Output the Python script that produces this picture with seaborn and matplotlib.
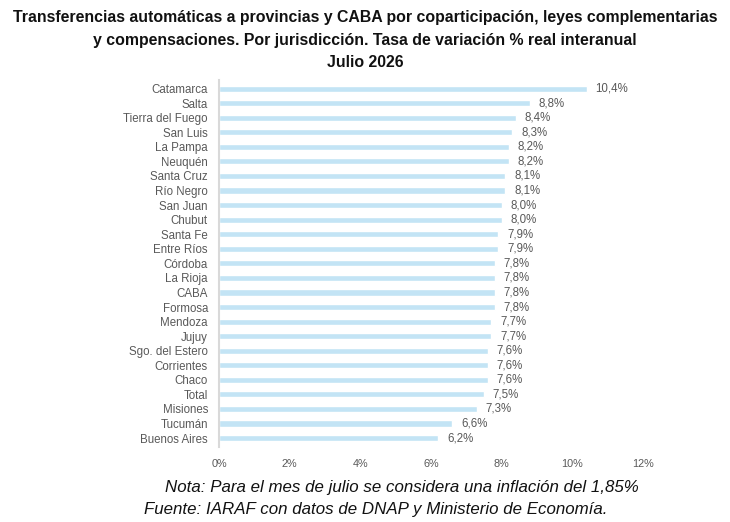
import matplotlib
matplotlib.use("Agg")
import matplotlib.pyplot as plt
import seaborn as sns
import pandas as pd
from matplotlib.ticker import FuncFormatter

provincias = ["Catamarca", "Salta", "Tierra del Fuego", "San Luis", "La Pampa", "Neuquén",
              "Santa Cruz", "Río Negro", "San Juan", "Chubut", "Santa Fe", "Entre Ríos",
              "Córdoba", "La Rioja", "CABA", "Formosa", "Mendoza", "Jujuy", "Sgo. del Estero",
              "Corrientes", "Chaco", "Total", "Misiones", "Tucumán", "Buenos Aires"]
variacion = [10.4, 8.8, 8.4, 8.3, 8.2, 8.2, 8.1, 8.1, 8.0, 8.0, 7.9, 7.9, 7.8, 7.8, 7.8,
             7.8, 7.7, 7.7, 7.6, 7.6, 7.6, 7.5, 7.3, 6.6, 6.2]
xticks = [0, 2, 4, 6, 8, 10, 12]

df = pd.DataFrame({"prov": provincias, "var": variacion})

sns.set_style("white")
plt.rcParams["font.family"] = ["Liberation Sans", "DejaVu Sans"]

fig = plt.figure(figsize=(7.3, 5.22), dpi=100)
ax = fig.add_axes([0.3, 0.144, 0.581, 0.703])

sns.barplot(data=df, x="var", y="prov", color="#c3e4f5", saturation=1,
            width=0.42, ax=ax)

gris = "#595959"
for i, v in enumerate(variacion):
    ax.text(v + 0.25, i, f"{v:.1f}%".replace(".", ","), va="center", ha="left",
            fontsize=8.3, color=gris)

ax.set_xlim(0, 12)
ax.set_xticks(xticks)
ax.xaxis.set_major_formatter(FuncFormatter(lambda x, p: f"{x:.0f}%"))
ax.set_xlabel("")
ax.set_ylabel("")
ax.tick_params(axis="both", length=0, colors=gris)
ax.tick_params(axis="x", pad=9, labelsize=7.8)
ax.tick_params(axis="y", pad=8, labelsize=8.3)
for s in ["top", "right", "bottom"]:
    ax.spines[s].set_visible(False)
ax.spines["left"].set_color("#d9d9d9")
ax.spines["left"].set_linewidth(1.5)
ax.set_ylim(len(provincias) - 0.4, -0.6)

titulo = ["Transferencias automáticas a provincias y CABA por coparticipación, leyes complementarias",
          "y compensaciones. Por jurisdicción. Tasa de variación % real interanual",
          "Julio 2026"]
for y, linea in zip([0.967, 0.923, 0.881], titulo):
    fig.text(0.5, y, linea, ha="center", va="center", fontsize=11.4,
             fontweight="bold", color="#111111")

fig.text(0.551, 0.067, "Nota: Para el mes de julio se considera una inflación del 1,85%",
         ha="center", va="center", fontsize=12.2, style="italic", color="#111111")
fig.text(0.515, 0.023, "Fuente: IARAF con datos de DNAP y Ministerio de Economía.",
         ha="center", va="center", fontsize=12.2, style="italic", color="#111111")

fig.savefig("out.png", dpi=100)
